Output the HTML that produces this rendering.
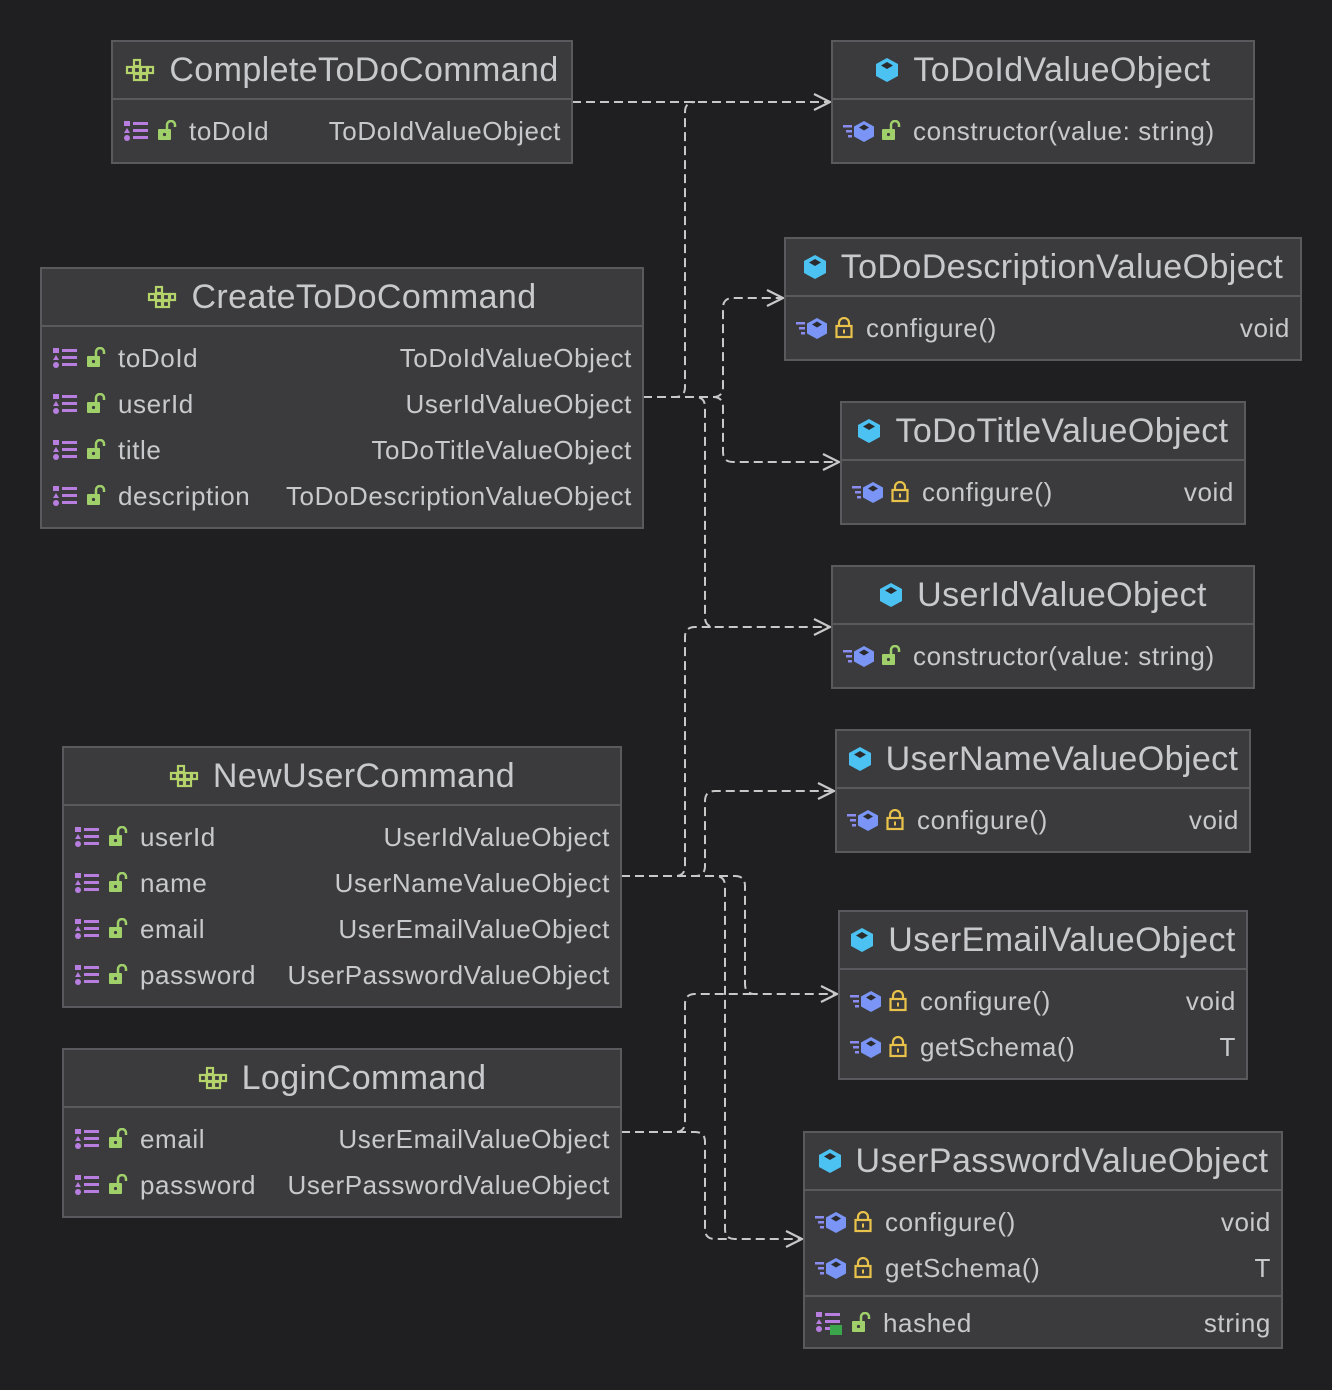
<!DOCTYPE html>
<html><head><meta charset="utf-8"><style>
body{margin:0;width:1332px;height:1390px;background:#1f1f22;position:relative;overflow:hidden;font-family:"Liberation Sans","DejaVu Sans",sans-serif;color:#c8c9cc}
.box{position:absolute;background:#3b3b3d;border:2px solid #5a5a5e;box-sizing:border-box}
.hd{height:58px;border-bottom:2px solid #5a5a5e;box-sizing:border-box;display:flex;align-items:center;justify-content:center;font-size:34px;letter-spacing:0.4px;gap:14px}
.bd{padding:8px 0}
.sep{border-top:2px solid #5a5a5e}
.row{height:46px;display:flex;align-items:center;padding:0 10px;font-size:26px;letter-spacing:0.6px;white-space:nowrap}
.row svg{flex:none}
.row .n{margin-left:12px}
.row .sp{flex:1;min-width:10px}
svg.i{display:block}
</style></head><body>
<svg width="0" height="0" style="position:absolute">
<defs>
<symbol id="cls" viewBox="0 0 30 24"><g fill="none" stroke="#b5d36b" stroke-width="2.2"><rect x="9" y="2" width="6" height="6"/><rect x="2" y="9" width="6" height="6"/><rect x="9" y="9" width="6" height="6"/><rect x="16" y="9" width="6" height="6"/><rect x="23" y="9" width="5" height="6"/><rect x="9" y="16" width="6" height="6"/><rect x="16" y="16" width="6" height="6"/></g></symbol>
<symbol id="cube" viewBox="0 0 24 26"><path d="M12 1 L23 7 V19 L12 25 L1 19 V7Z" fill="#4cc2f2"/><path d="M12 5 L18 8.5 L12 12 L6 8.5Z" fill="#2b2b2e"/></symbol>
<symbol id="fld" viewBox="0 0 26 24"><g fill="#b77ee0"><rect x="1" y="2" width="6" height="5"/><path d="M4 9 L7 14 H1Z"/><circle cx="4" cy="19" r="3"/><rect x="10" y="3" width="15" height="3"/><rect x="10" y="10" width="15" height="3"/><rect x="10" y="17" width="15" height="3"/></g></symbol>
<symbol id="fldg" viewBox="0 0 28 26"><g fill="#b77ee0"><rect x="1" y="2" width="6" height="5"/><path d="M4 9 L7 14 H1Z"/><circle cx="4" cy="19" r="3"/><rect x="10" y="3" width="15" height="3"/><rect x="10" y="10" width="15" height="3"/><rect x="10" y="17" width="8" height="3"/></g><rect x="15" y="15" width="12" height="10" fill="#3aa54a"/></symbol>
<symbol id="olock" viewBox="0 0 20 22"><path d="M10 9 V5 a4 4 0 0 1 8 0 V7" fill="none" stroke="#9fd06a" stroke-width="2.5"/><rect x="1" y="9" width="13" height="11" rx="1" fill="#9fd06a"/><circle cx="7.5" cy="14.5" r="1.6" fill="#3b3b3d"/></symbol>
<symbol id="lock" viewBox="0 0 20 22"><path d="M5 9 V6 a5 5 0 0 1 10 0 V9" fill="none" stroke="#e8c24a" stroke-width="2.2"/><rect x="2.5" y="9" width="15" height="11" fill="none" stroke="#e8c24a" stroke-width="2.2"/><rect x="9" y="12.5" width="2" height="4" fill="#e8c24a"/></symbol>
<symbol id="meth" viewBox="0 0 34 24"><g fill="#8a8cf0"><rect x="0" y="6" width="9" height="2.5"/><rect x="3" y="11" width="6" height="2.5"/><rect x="5" y="16" width="4" height="2.5"/></g><path d="M21 2 L31 7.5 V17.5 L21 23 L11 17.5 V7.5Z" fill="#7a95f5"/><path d="M21 5.5 L26 8.5 L21 11.5 L16 8.5Z" fill="#2b2b2e"/></symbol>
</defs></svg>

<svg width="1332" height="1390" style="position:absolute;left:0;top:0">
<g fill="none" stroke="#c8c8c8" stroke-width="2" stroke-dasharray="9 5">
<path d="M572,102 H828"/>
<path d="M643,397 H675 Q685,397 685,387 V112 Q685,102 695,102"/>
<path d="M643,397 H713 Q723,397 723,387 V308 Q723,298 733,298 H781"/>
<path d="M643,397 H713 Q723,397 723,407 V452 Q723,462 733,462 H837"/>
<path d="M643,397 H695 Q705,397 705,407 V617 Q705,627 715,627 H828"/>
<path d="M621,876 H675 Q685,876 685,866 V637 Q685,627 695,627 H712"/>
<path d="M621,876 H695 Q705,876 705,866 V801 Q705,791 715,791 H832"/>
<path d="M621,876 H735 Q745,876 745,886 V984 Q745,994 755,994 H835"/>
<path d="M621,876 H715 Q725,876 725,886 V1229 Q725,1239 735,1239 H800"/>
<path d="M621,1132 H675 Q685,1132 685,1122 V1004 Q685,994 695,994 H752"/>
<path d="M621,1132 H695 Q705,1132 705,1142 V1229 Q705,1239 715,1239 H732"/>
</g>
<g fill="none" stroke="#c8c8c8" stroke-width="2.2">
<path d="M814,94 L830,102 L814,110"/>
<path d="M767,290 L783,298 L767,306"/>
<path d="M823,454 L839,462 L823,470"/>
<path d="M814,619 L830,627 L814,635"/>
<path d="M818,783 L834,791 L818,799"/>
<path d="M821,986 L837,994 L821,1002"/>
<path d="M786,1231 L802,1239 L786,1247"/>
</g>
</svg>

<div class="box" style="left:111px;top:40px;width:462px;height:124px">
<div class="hd"><svg class="i" width="30" height="24"><use href="#cls"/></svg>CompleteToDoCommand</div>
<div class="bd"><div class="row"><svg width="26" height="24"><use href="#fld"/></svg><svg width="20" height="22" style="margin-left:8px"><use href="#olock"/></svg><span class="n">toDoId</span><span class="sp"></span>ToDoIdValueObject</div></div>
</div>

<div class="box" style="left:831px;top:40px;width:424px;height:124px">
<div class="hd"><svg class="i" width="24" height="26"><use href="#cube"/></svg>ToDoIdValueObject</div>
<div class="bd"><div class="row"><svg width="34" height="24"><use href="#meth"/></svg><svg width="20" height="22" style="margin-left:4px"><use href="#olock"/></svg><span class="n">constructor(value: string)</span></div></div>
</div>

<div class="box" style="left:784px;top:237px;width:518px;height:124px">
<div class="hd"><svg class="i" width="24" height="26"><use href="#cube"/></svg>ToDoDescriptionValueObject</div>
<div class="bd"><div class="row"><svg width="34" height="24"><use href="#meth"/></svg><svg width="20" height="22" style="margin-left:4px"><use href="#lock"/></svg><span class="n">configure()</span><span class="sp"></span>void</div></div>
</div>

<div class="box" style="left:40px;top:267px;width:604px;height:262px">
<div class="hd"><svg class="i" width="30" height="24"><use href="#cls"/></svg>CreateToDoCommand</div>
<div class="bd">
<div class="row"><svg width="26" height="24"><use href="#fld"/></svg><svg width="20" height="22" style="margin-left:8px"><use href="#olock"/></svg><span class="n">toDoId</span><span class="sp"></span>ToDoIdValueObject</div>
<div class="row"><svg width="26" height="24"><use href="#fld"/></svg><svg width="20" height="22" style="margin-left:8px"><use href="#olock"/></svg><span class="n">userId</span><span class="sp"></span>UserIdValueObject</div>
<div class="row"><svg width="26" height="24"><use href="#fld"/></svg><svg width="20" height="22" style="margin-left:8px"><use href="#olock"/></svg><span class="n">title</span><span class="sp"></span>ToDoTitleValueObject</div>
<div class="row"><svg width="26" height="24"><use href="#fld"/></svg><svg width="20" height="22" style="margin-left:8px"><use href="#olock"/></svg><span class="n">description</span><span class="sp"></span>ToDoDescriptionValueObject</div>
</div></div>

<div class="box" style="left:840px;top:401px;width:406px;height:124px">
<div class="hd"><svg class="i" width="24" height="26"><use href="#cube"/></svg>ToDoTitleValueObject</div>
<div class="bd"><div class="row"><svg width="34" height="24"><use href="#meth"/></svg><svg width="20" height="22" style="margin-left:4px"><use href="#lock"/></svg><span class="n">configure()</span><span class="sp"></span>void</div></div>
</div>

<div class="box" style="left:831px;top:565px;width:424px;height:124px">
<div class="hd"><svg class="i" width="24" height="26"><use href="#cube"/></svg>UserIdValueObject</div>
<div class="bd"><div class="row"><svg width="34" height="24"><use href="#meth"/></svg><svg width="20" height="22" style="margin-left:4px"><use href="#olock"/></svg><span class="n">constructor(value: string)</span></div></div>
</div>

<div class="box" style="left:835px;top:729px;width:416px;height:124px">
<div class="hd"><svg class="i" width="24" height="26"><use href="#cube"/></svg>UserNameValueObject</div>
<div class="bd"><div class="row"><svg width="34" height="24"><use href="#meth"/></svg><svg width="20" height="22" style="margin-left:4px"><use href="#lock"/></svg><span class="n">configure()</span><span class="sp"></span>void</div></div>
</div>

<div class="box" style="left:62px;top:746px;width:560px;height:262px">
<div class="hd"><svg class="i" width="30" height="24"><use href="#cls"/></svg>NewUserCommand</div>
<div class="bd">
<div class="row"><svg width="26" height="24"><use href="#fld"/></svg><svg width="20" height="22" style="margin-left:8px"><use href="#olock"/></svg><span class="n">userId</span><span class="sp"></span>UserIdValueObject</div>
<div class="row"><svg width="26" height="24"><use href="#fld"/></svg><svg width="20" height="22" style="margin-left:8px"><use href="#olock"/></svg><span class="n">name</span><span class="sp"></span>UserNameValueObject</div>
<div class="row"><svg width="26" height="24"><use href="#fld"/></svg><svg width="20" height="22" style="margin-left:8px"><use href="#olock"/></svg><span class="n">email</span><span class="sp"></span>UserEmailValueObject</div>
<div class="row"><svg width="26" height="24"><use href="#fld"/></svg><svg width="20" height="22" style="margin-left:8px"><use href="#olock"/></svg><span class="n">password</span><span class="sp"></span>UserPasswordValueObject</div>
</div></div>

<div class="box" style="left:838px;top:910px;width:410px;height:170px">
<div class="hd"><svg class="i" width="24" height="26"><use href="#cube"/></svg>UserEmailValueObject</div>
<div class="bd">
<div class="row"><svg width="34" height="24"><use href="#meth"/></svg><svg width="20" height="22" style="margin-left:4px"><use href="#lock"/></svg><span class="n">configure()</span><span class="sp"></span>void</div>
<div class="row"><svg width="34" height="24"><use href="#meth"/></svg><svg width="20" height="22" style="margin-left:4px"><use href="#lock"/></svg><span class="n">getSchema()</span><span class="sp"></span>T</div>
</div></div>

<div class="box" style="left:62px;top:1048px;width:560px;height:170px">
<div class="hd"><svg class="i" width="30" height="24"><use href="#cls"/></svg>LoginCommand</div>
<div class="bd">
<div class="row"><svg width="26" height="24"><use href="#fld"/></svg><svg width="20" height="22" style="margin-left:8px"><use href="#olock"/></svg><span class="n">email</span><span class="sp"></span>UserEmailValueObject</div>
<div class="row"><svg width="26" height="24"><use href="#fld"/></svg><svg width="20" height="22" style="margin-left:8px"><use href="#olock"/></svg><span class="n">password</span><span class="sp"></span>UserPasswordValueObject</div>
</div></div>

<div class="box" style="left:803px;top:1131px;width:480px;height:218px">
<div class="hd"><svg class="i" width="24" height="26"><use href="#cube"/></svg>UserPasswordValueObject</div>
<div class="bd" style="padding:8px 0 4px">
<div class="row"><svg width="34" height="24"><use href="#meth"/></svg><svg width="20" height="22" style="margin-left:4px"><use href="#lock"/></svg><span class="n">configure()</span><span class="sp"></span>void</div>
<div class="row"><svg width="34" height="24"><use href="#meth"/></svg><svg width="20" height="22" style="margin-left:4px"><use href="#lock"/></svg><span class="n">getSchema()</span><span class="sp"></span>T</div>
</div>
<div class="sep" style="padding:3px 0">
<div class="row"><svg width="28" height="26"><use href="#fldg"/></svg><svg width="20" height="22" style="margin-left:8px"><use href="#olock"/></svg><span class="n">hashed</span><span class="sp"></span>string</div>
</div></div>

</body></html>
